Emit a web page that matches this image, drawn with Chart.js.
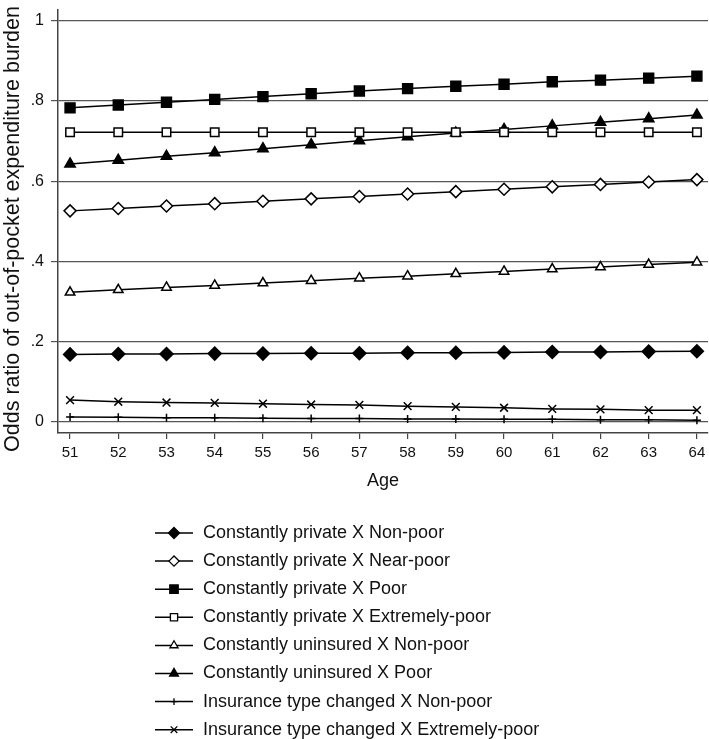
<!DOCTYPE html>
<html>
<head>
<meta charset="utf-8">
<title>Odds ratio by age</title>
<script src="https://cdn.jsdelivr.net/npm/chart.js@4/dist/chart.umd.min.js"></script>
<style>
  body { margin: 0; background: #fff; }
  canvas { display: block; }
</style>
</head>
<body>
<canvas id="myChart" width="709" height="739"></canvas>
<script>
// data
var ages = [51, 52, 53, 54, 55, 56, 57, 58, 59, 60, 61, 62, 63, 64];
var yTicks = [0, 0.2, 0.4, 0.6, 0.8, 1];

var privNonPoor  = [0.168, 0.169, 0.169, 0.170, 0.170, 0.171, 0.171, 0.172, 0.172, 0.173, 0.174, 0.174, 0.175, 0.176];
var privNearPoor = [0.526, 0.532, 0.538, 0.544, 0.550, 0.556, 0.562, 0.568, 0.574, 0.580, 0.586, 0.592, 0.598, 0.604];
var privPoor     = [0.783, 0.790, 0.797, 0.804, 0.811, 0.818, 0.825, 0.831, 0.837, 0.842, 0.848, 0.852, 0.857, 0.862];
var privExtPoor  = [0.722, 0.722, 0.722, 0.722, 0.722, 0.722, 0.722, 0.722, 0.722, 0.722, 0.722, 0.722, 0.722, 0.722];
var uninsNonPoor = [0.323, 0.329, 0.335, 0.340, 0.346, 0.352, 0.358, 0.363, 0.369, 0.375, 0.381, 0.386, 0.392, 0.398];
var uninsPoor    = [0.643, 0.652, 0.662, 0.671, 0.681, 0.691, 0.701, 0.711, 0.720, 0.729, 0.738, 0.747, 0.756, 0.765];
var chgNonPoor   = [0.012, 0.011, 0.010, 0.010, 0.009, 0.008, 0.008, 0.007, 0.007, 0.006, 0.006, 0.005, 0.005, 0.004];
var chgExtPoor   = [0.054, 0.050, 0.048, 0.047, 0.045, 0.043, 0.042, 0.039, 0.037, 0.035, 0.032, 0.031, 0.029, 0.029];

var FONT = "'Liberation Sans', Arial, sans-serif";
var yTitle = 'Odds ratio of out-of-pocket expenditure burden';

function series(label, values, style, radius, filled) {
    return {
        label: label,
        data: ages.map(function (a, i) { return { x: a, y: values[i] }; }),
        borderColor: '#000',
        backgroundColor: '#000',
        borderWidth: 1.5,
        pointStyle: style,
        pointRadius: radius,
        pointBorderWidth: 1.5,
        pointBorderColor: '#000',
        pointBackgroundColor: filled ? '#000' : '#fff',
        tension: 0
    };
}

var datasets = [
    series('Constantly private X Non-poor', privNonPoor, 'rectRot', 6.5, true),
    series('Constantly private X Near-poor', privNearPoor, 'rectRot', 6, false),
    series('Constantly private X Poor', privPoor, 'rect', 7, true),
    series('Constantly private X Extremely-poor', privExtPoor, 'rect', 6, false),
    series('Constantly uninsured X Non-poor', uninsNonPoor, 'triangle', 5.5, false),
    series('Constantly uninsured X Poor', uninsPoor, 'triangle', 6, true),
    series('Insurance type changed X Non-poor', chgNonPoor, 'cross', 4, true),
    series('Insurance type changed X Extremely-poor', chgExtPoor, 'crossRot', 5.5, true)
];

// single column legend under the plot + the y title, placed like the original figure
var figureText = {
    id: 'figureText',
    afterDraw: function (chart) {
        var ctx = chart.ctx;
        var top = 533, step = 28.1;
        ctx.save();
        chart.data.datasets.forEach(function (ds, i) {
            var y = top + i * step;
            ctx.strokeStyle = '#000';
            ctx.lineWidth = 1.5;
            ctx.beginPath();
            ctx.moveTo(155, y);
            ctx.lineTo(193, y);
            ctx.stroke();
            ctx.fillStyle = ds.pointBackgroundColor;
            ctx.strokeStyle = '#000';
            ctx.lineWidth = 1.3;
            if (Chart.helpers && Chart.helpers.drawPoint) {
                Chart.helpers.drawPoint(ctx, {
                    pointStyle: ds.pointStyle,
                    radius: ds.pointRadius * 0.85,
                    rotation: 0,
                    borderWidth: 1.3
                }, 174, y);
            }
            ctx.fillStyle = '#111';
            ctx.font = '18px ' + FONT;
            ctx.textBaseline = 'middle';
            ctx.textAlign = 'left';
            ctx.fillText(ds.label, 203, y);
        });

        ctx.translate(13, 229);
        ctx.rotate(-Math.PI / 2);
        ctx.font = '21.5px ' + FONT;
        ctx.textAlign = 'center';
        ctx.textBaseline = 'middle';
        ctx.fillStyle = '#111';
        ctx.fillText(yTitle, 0, 0);
        ctx.restore();
    }
};

const ctx = document.getElementById('myChart').getContext('2d');
const myChart = new Chart(ctx, {
    type: 'line',
    data: { datasets: datasets },
    options: {
        responsive: false,
        animation: false,
        layout: { autoPadding: false, padding: { left: 0, right: 1, top: 10, bottom: 246 } },
        plugins: {
            legend: { display: false },
            tooltip: { enabled: false }
        },
        scales: {
            x: {
                type: 'linear',
                min: 50.75,
                max: 64.23,
                afterBuildTicks: function (axis) {
                    axis.ticks = ages.map(function (a) { return { value: a }; });
                },
                afterFit: function (scale) {
                    scale.height = 60;
                    scale.paddingLeft = 0;
                    scale.paddingRight = 0;
                },
                grid: {
                    drawOnChartArea: false,
                    drawTicks: true,
                    tickLength: 6,
                    color: '#444',
                    lineWidth: 1.2
                },
                border: { display: true, color: '#444', width: 1.5 },
                ticks: {
                    padding: 5,
                    maxRotation: 0,
                    autoSkip: false,
                    color: '#111',
                    font: { family: FONT, size: 15 },
                    callback: function (v) { return String(v); }
                },
                title: {
                    display: true,
                    text: 'Age',
                    color: '#111',
                    font: { family: FONT, size: 18 },
                    padding: { top: 0, bottom: 1 }
                }
            },
            y: {
                min: -0.028,
                max: 1.027,
                afterBuildTicks: function (axis) {
                    axis.ticks = yTicks.map(function (v) { return { value: v }; });
                },
                afterFit: function (scale) {
                    scale.width = 58;
                    scale.paddingTop = 0;
                    scale.paddingBottom = 0;
                },
                grid: {
                    color: '#555',
                    lineWidth: 1.2,
                    drawTicks: true,
                    tickLength: 7
                },
                border: { display: true, color: '#444', width: 1.5 },
                ticks: {
                    padding: 7,
                    color: '#111',
                    font: { family: FONT, size: 16 },
                    callback: function (v) {
                        if (v === 0) return '0';
                        if (v === 1) return '1';
                        return String(Math.round(v * 10) / 10).replace(/^0/, '');
                    }
                }
            }
        }
    },
    plugins: [figureText]
});
</script>
</body>
</html>
